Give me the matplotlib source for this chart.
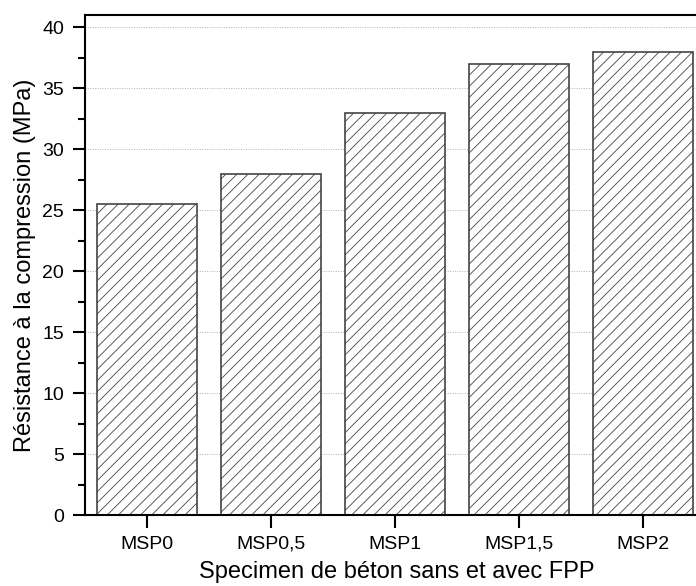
import numpy as np
import matplotlib
matplotlib.use('Agg')
import matplotlib.pyplot as plt
from matplotlib.ticker import MultipleLocator

plt.rcParams['font.family'] = ['Liberation Sans', 'DejaVu Sans']
plt.rcParams['hatch.color'] = '#808080'
plt.rcParams['hatch.linewidth'] = 0.6

categories = ['MSP0', 'MSP0,5', 'MSP1', 'MSP1,5', 'MSP2']
resistance = [25.5, 28.0, 33.0, 37.0, 38.0]

fig = plt.figure(figsize=(6.96, 5.86), dpi=100)
# axes deliberately run past the right edge (the original is cropped)
ax = fig.add_axes([85/696, 1 - 515/586, 620/696, 500/586])

x = np.arange(len(categories))
ax.bar(x, resistance, width=0.8, facecolor='white', edgecolor='#444444',
       linewidth=1.2, hatch='///', zorder=2)

ax.set_xlim(-0.5, len(categories) - 0.5)
ax.set_ylim(0, 41)
ax.yaxis.set_major_locator(MultipleLocator(5))
ax.yaxis.set_minor_locator(MultipleLocator(2.5))
ax.set_xticks(x)
ax.set_xticklabels(categories)

ax.grid(axis='y', which='major', linestyle=(0, (1, 1.5)), color='#b0b0b0',
        linewidth=0.7, zorder=0)
ax.set_axisbelow(True)

for s in ['left', 'bottom', 'top']:
    ax.spines[s].set_linewidth(1.5)
ax.spines['right'].set_visible(False)

ax.tick_params(axis='both', which='major', direction='out', length=9,
               width=1.5, labelsize=14, pad=6)
ax.tick_params(axis='y', which='minor', direction='out', length=5, width=1.5)
ax.tick_params(axis='x', which='minor', bottom=False)

ax.set_ylabel('Résistance à la compression (MPa)', fontsize=17, va='center')
ax.yaxis.set_label_coords(-60/620, 0.5)
ax.set_xlabel('Specimen de béton sans et avec FPP', fontsize=17, va='baseline')
ax.xaxis.set_label_coords(0.503, -63/500)

fig.savefig('out.png', dpi=100)
